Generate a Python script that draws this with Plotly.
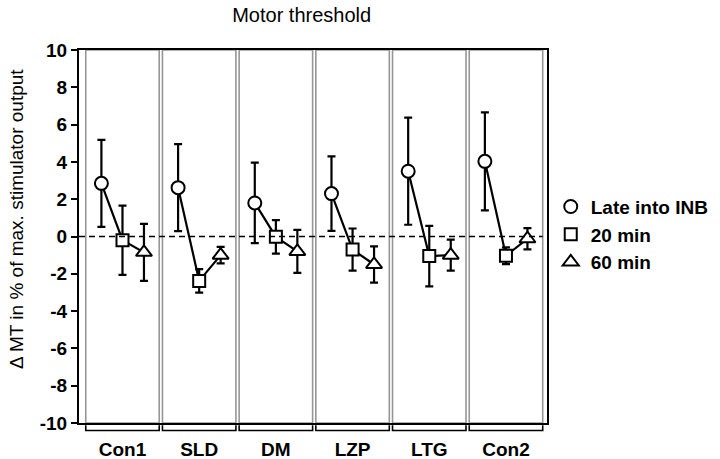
import plotly.graph_objects as go

groups = ["Con1", "SLD", "DM", "LZP", "LTG", "Con2"]
late_vals = [2.85, 2.62, 1.8, 2.3, 3.5, 4.03]
late_err = [2.33, 2.33, 2.16, 2.0, 2.87, 2.63]
m20_vals = [-0.2, -2.38, -0.02, -0.7, -1.05, -1.03]
m20_err = [1.86, 0.63, 0.9, 1.13, 1.62, 0.45]
m60_vals = [-0.85, -1.0, -0.8, -1.5, -1.0, -0.12]
m60_err = [1.53, 0.44, 1.15, 0.97, 0.83, 0.57]
series_names = ["Late into INB", "20 min", "60 min"]
y_ticks = [-10, -8, -6, -4, -2, 0, 2, 4, 6, 8, 10]
y_tick_text = ["-10", "-8", "-6", "-4", "-2", "0", "2", "4", "6", "8", "10"]

FONT = "Liberation Sans, Arial, sans-serif"
offsets = [-0.275, 0.0, 0.28]
half_w = 0.479
xmin, xmax = -0.567, 5.535

fig = go.Figure()

# connecting lines per group
lx, ly = [], []
for i in range(len(groups)):
    vals = [late_vals[i], m20_vals[i], m60_vals[i]]
    for k, v in enumerate(vals):
        lx.append(i + offsets[k])
        ly.append(v)
    lx.append(None)
    ly.append(None)
fig.add_trace(go.Scatter(x=lx, y=ly, mode="lines", line=dict(color="black", width=2.2),
                         showlegend=False, hoverinfo="skip"))

symbols = ["circle", "square", "triangle-up"]
sizes = [13, 12, 14]
all_vals = [late_vals, m20_vals, m60_vals]
all_err = [late_err, m20_err, m60_err]
for k in range(3):
    fig.add_trace(go.Scatter(
        x=[i + offsets[k] for i in range(len(groups))],
        y=all_vals[k],
        mode="markers",
        name=series_names[k],
        marker=dict(symbol=symbols[k], size=sizes[k], color="white",
                    line=dict(color="black", width=2)),
        error_y=dict(type="data", array=all_err[k], color="black", thickness=2.2, width=4),
    ))

shapes = []
for i in range(len(groups)):
    shapes.append(dict(type="rect", xref="x", yref="y", x0=i - half_w, x1=i + half_w,
                       y0=-10, y1=10, line=dict(color="rgb(150,150,150)", width=1.6),
                       layer="below"))
    shapes.append(dict(type="path", xref="x", yref="paper",
                       path=f"M {i - half_w},-0.006 L {i - half_w},-0.020 L {i + half_w},-0.020 L {i + half_w},-0.006",
                       line=dict(color="black", width=1.6)))
shapes.append(dict(type="line", xref="x", yref="y", x0=xmin, x1=5 + half_w, y0=0, y1=0,
                   line=dict(color="black", width=1.5, dash="6px,4px")))

fig.update_layout(
    width=720, height=459,
    margin=dict(l=79, r=173, t=50, b=36, autoexpand=False),
    paper_bgcolor="white", plot_bgcolor="white",
    font=dict(family=FONT, color="black"),
    title=dict(text="Motor threshold", x=0.419, xref="container", xanchor="center",
               y=0.967, yref="container", yanchor="middle",
               font=dict(size=20, family=FONT, color="black")),
    shapes=shapes,
    showlegend=True,
    legend=dict(x=1.008, xanchor="left", y=0.631, yanchor="top",
                font=dict(size=19, family=FONT, color="black", weight="bold"),
                bgcolor="rgba(0,0,0,0)", itemsizing="trace", tracegroupgap=0),
    annotations=[dict(text="\u0394 MT in % of max. stimulator output", textangle=-90,
                      xref="paper", yref="paper", x=-0.1325, y=0.547,
                      xanchor="center", yanchor="middle", showarrow=False,
                      font=dict(size=19, family=FONT, color="black"))],
)
fig.update_xaxes(range=[xmin, xmax], showgrid=False, zeroline=False, automargin=False,
                 showline=True, mirror=True, linecolor="black", linewidth=2,
                 tickmode="array", tickvals=list(range(len(groups))), ticktext=groups,
                 ticks="", ticklabelstandoff=8,
                 tickfont=dict(size=19, family=FONT, color="black", weight="bold"))
fig.update_yaxes(range=[-10, 10], showgrid=False, zeroline=False, automargin=False,
                 showline=True, mirror=True, linecolor="black", linewidth=2,
                 tickmode="array", tickvals=y_ticks, ticktext=y_tick_text,
                 ticks="outside", ticklen=6, tickwidth=1.5, tickcolor="black",
                 tickfont=dict(size=19, family=FONT, color="black", weight="bold"))

fig.write_html("out.html", config={"displayModeBar": False},
               post_script="document.body.style.margin='0';document.body.style.overflow='hidden';")
